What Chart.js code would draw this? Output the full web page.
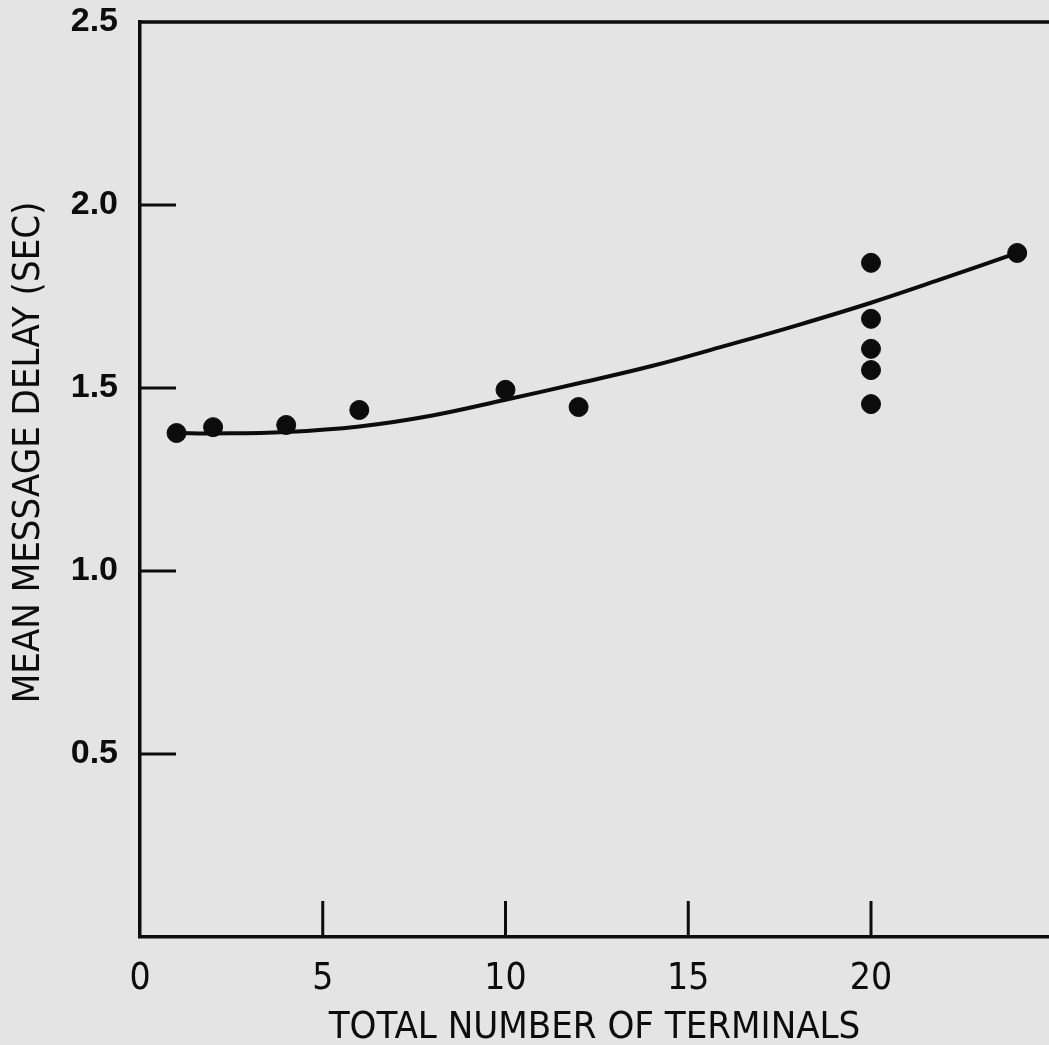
<!DOCTYPE html>
<html>
<head>
<meta charset="utf-8">
<script src="https://cdn.jsdelivr.net/npm/chart.js@4/dist/chart.umd.min.js"></script>
<style>
  html, body { margin: 0; padding: 0; background: #e4e4e4; }
  #wrap { width: 1049px; height: 1045px; }
</style>
</head>
<body>
<div id="wrap"><canvas id="delayChart" width="1049" height="1045"></canvas></div>
<script>
// observed runs
var terminals = [1, 2, 4, 6, 10, 12, 20, 20, 20, 20, 20, 24];
var meanDelay = [1.377, 1.393, 1.399, 1.44, 1.495, 1.448, 1.842, 1.689, 1.607, 1.549, 1.456, 1.869];

// hand-drawn fitted curve
var curveX = [1, 2, 4, 6, 8, 10, 12, 14, 16, 18, 20, 22, 24];
var curveY = [1.377, 1.376, 1.38, 1.395, 1.425, 1.468, 1.513, 1.56, 1.615, 1.672, 1.733, 1.8, 1.869];

var xTicks = [0, 5, 10, 15, 20];
var yTicks = [0.5, 1.0, 1.5, 2.0, 2.5];

var ink = '#0c0c0c';
var narrow = "'Liberation Sans Narrow', 'DejaVu Sans Condensed', sans-serif";

var toXY = function(xs, ys) {
    var out = [];
    for (var i = 0; i < xs.length; i++) {
        out.push({x: xs[i], y: ys[i]});
    }
    return out;
};

// paper background + inward tick marks + top frame line
var framePlugin = {
    id: 'frame',
    beforeDraw: function(chart) {
        var c = chart.ctx;
        c.save();
        c.fillStyle = '#e4e4e4';
        c.fillRect(0, 0, chart.width, chart.height);
        c.restore();
    },
    afterDatasetsDraw: function(chart) {
        var c = chart.ctx;
        var xs = chart.scales.x, ys = chart.scales.y;
        var x0 = xs.getPixelForValue(0);
        var y0 = ys.getPixelForValue(0);
        c.save();
        c.strokeStyle = ink;
        c.lineWidth = 3;
        c.beginPath();
        xTicks.forEach(function(v) {
            if (v === 0) return;
            var px = xs.getPixelForValue(v);
            c.moveTo(px, y0);
            c.lineTo(px, y0 - 36);
        });
        yTicks.forEach(function(v) {
            if (v === 2.5) return;
            var py = ys.getPixelForValue(v);
            c.moveTo(x0, py);
            c.lineTo(x0 + 36, py);
        });
        c.stroke();
        // top line
        c.lineWidth = 3.5;
        c.beginPath();
        var top = ys.getPixelForValue(2.5);
        c.moveTo(x0 - 1.5, top);
        c.lineTo(chart.width, top);
        c.stroke();
        c.restore();
    }
};

var chart = new Chart(document.getElementById('delayChart').getContext('2d'), {
    type: 'scatter',
    data: {
        datasets: [{
            type: 'line',
            data: toXY(curveX, curveY),
            borderColor: ink,
            borderWidth: 4,
            pointRadius: 0,
            tension: 0.4,
            fill: false
        }, {
            data: toXY(terminals, meanDelay),
            backgroundColor: ink,
            borderColor: ink,
            pointRadius: 9.5,
            pointHoverRadius: 9.5
        }]
    },
    options: {
        responsive: false,
        animation: false,
        events: [],
        layout: { autoPadding: false, padding: { top: 22, right: 0, left: 0, bottom: 0 } },
        plugins: {
            legend: { display: false },
            tooltip: { enabled: false }
        },
        scales: {
            x: {
                type: 'linear',
                min: 0,
                max: 24.87,
                afterBuildTicks: function(axis) {
                    axis.ticks = xTicks.map(function(v) { return {value: v}; });
                },
                afterFit: function(axis) {
                    axis.height = 108;
                    axis.paddingLeft = 0;
                    axis.paddingRight = 0;
                },
                grid: { display: false, drawTicks: false },
                border: { display: true, width: 3.5, color: ink },
                ticks: {
                    padding: 20,
                    color: ink,
                    maxRotation: 0,
                    font: { family: narrow, size: 37 }
                },
                title: {
                    display: true,
                    text: 'TOTAL NUMBER OF TERMINALS',
                    color: ink,
                    padding: { top: 0, bottom: -2 },
                    font: { family: narrow, size: 38, lineHeight: 1 }
                }
            },
            y: {
                type: 'linear',
                min: 0,
                max: 2.5,
                afterBuildTicks: function(axis) {
                    axis.ticks = yTicks.map(function(v) { return {value: v}; });
                },
                afterFit: function(axis) {
                    axis.width = 140;
                    axis.paddingTop = 0;
                    axis.paddingBottom = 0;
                },
                grid: { display: false, drawTicks: false },
                border: { display: true, width: 3.5, color: ink },
                ticks: {
                    padding: 22,
                    color: ink,
                    font: { family: "'Liberation Sans', Arial, sans-serif", size: 34, weight: 'bold' },
                    callback: function(v) { return v.toFixed(1); }
                },
                title: {
                    display: true,
                    // leading spaces nudge the label up a little, like the original
                    text: '     MEAN MESSAGE DELAY (SEC)',
                    color: ink,
                    padding: { top: 10, bottom: 0 },
                    font: { family: narrow, size: 38, lineHeight: 1 }
                }
            }
        }
    },
    plugins: [framePlugin]
});
</script>
</body>
</html>
